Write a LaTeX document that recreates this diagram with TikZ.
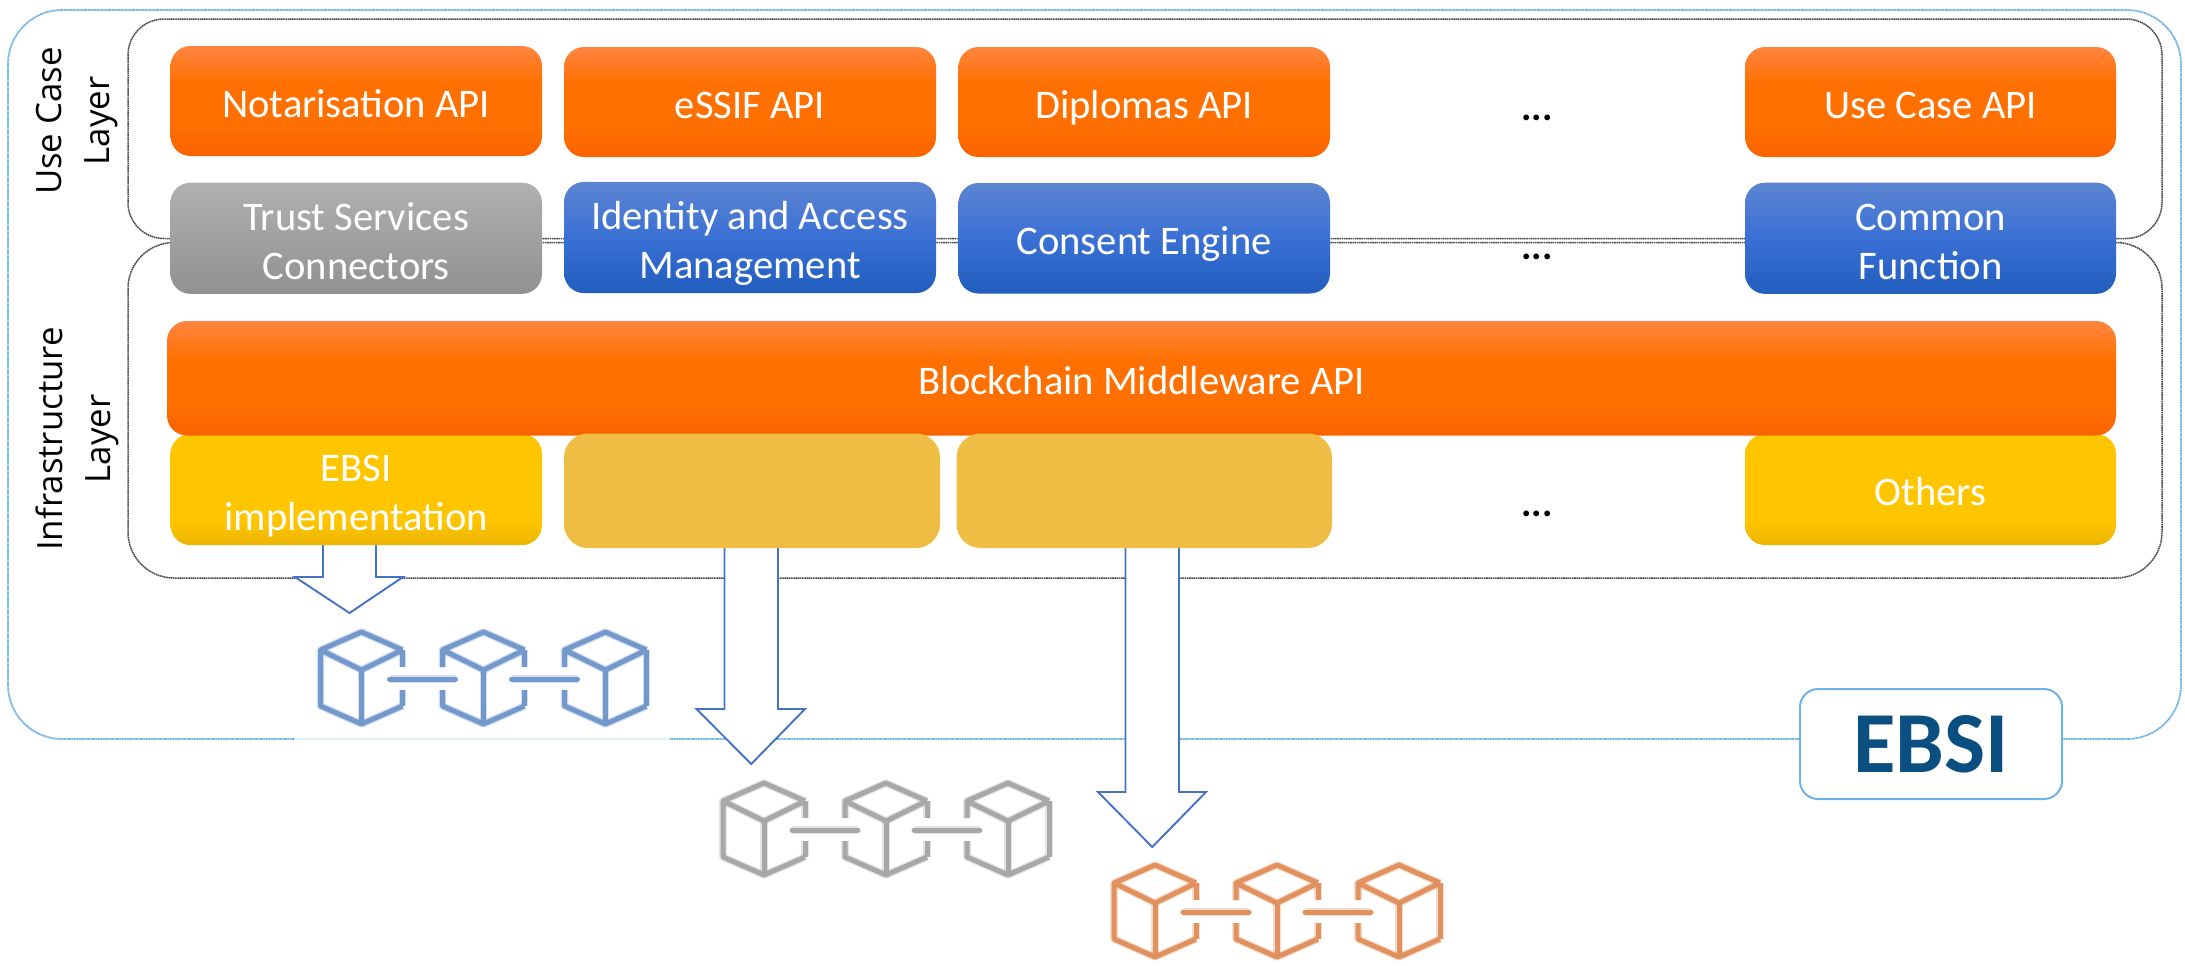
\documentclass[tikz,border=0pt]{standalone}
\usepackage{fontspec}
\setmainfont{Carlito}
\newfontfamily\lyrfont{Open Sans}
\definecolor{oT}{HTML}{FF8540}
\definecolor{oM}{HTML}{FF7000}
\definecolor{oB}{HTML}{F96300}
\definecolor{bT}{HTML}{5C85D2}
\definecolor{bM}{HTML}{3A70D4}
\definecolor{bB}{HTML}{215EBE}
\definecolor{gT}{HTML}{B0B0B0}
\definecolor{gB}{HTML}{919191}
\definecolor{yT}{HTML}{FFC600}
\definecolor{yB}{HTML}{EBB400}
\definecolor{tanfill}{HTML}{EFBD43}
\definecolor{framegray}{HTML}{4A4A4A}
\definecolor{frameblue}{HTML}{6DB3E8}
\definecolor{faintblue}{HTML}{E2F0FA}
\definecolor{arrowblue}{HTML}{4472C4}
\definecolor{cubeblue}{HTML}{7298CC}
\definecolor{cubegray}{HTML}{A8A8A8}
\definecolor{cubeorange}{HTML}{E0915E}
\definecolor{ebsiblue}{HTML}{0B4F80}
\pgfdeclareverticalshading{gorange}{100bp}{color(0bp)=(oB); color(25bp)=(oB); color(40bp)=(oM); color(58bp)=(oM); color(75bp)=(oT); color(100bp)=(oT)}
\pgfdeclareverticalshading{gblue}{100bp}{color(0bp)=(bB); color(25bp)=(bB); color(50bp)=(bM); color(75bp)=(bT); color(100bp)=(bT)}
\pgfdeclareverticalshading{ggray}{100bp}{color(0bp)=(gB); color(25bp)=(gB); color(75bp)=(gT); color(100bp)=(gT)}
\pgfdeclareverticalshading{gyellow}{100bp}{color(0bp)=(yB); color(25bp)=(yB); color(36bp)=(yT); color(100bp)=(yT)}
\tikzset{
  basebox/.style={rounded corners=10pt,inner sep=0pt,align=center,text=white,
    font=\fontsize{20.3}{24.5}\selectfont},
  obox/.style={basebox,shading=gorange},
  bbox/.style={basebox,shading=gblue},
  gbox/.style={basebox,shading=ggray},
  ybox/.style={basebox,shading=gyellow},
  tbox/.style={basebox,fill=tanfill,rounded corners=12pt},
  framein/.style={draw=framegray,line width=0.75pt,dash pattern=on 0.8pt off 0.3pt},
  frameout/.style={draw=frameblue,line width=0.9pt,dash pattern=on 0.9pt off 0.3pt},
  blockarrow/.style={draw=arrowblue,fill=white,line width=0.95pt,line join=miter},
  lyr/.style={font=\lyrfont\fontsize{17.4}{24}\selectfont,align=center,rotate=90,inner sep=0pt},
  dots/.style={font=\fontsize{19.5}{24}\selectfont\bfseries,anchor=base,inner sep=0pt},
  cubeline/.style={line width=2.5pt,preaction={draw,opacity=0.3,line width=3.8pt}},
}
% name, style, x1, y1, x2, y2, text
\newcommand{\bx}[7]{\node[#2,minimum width={(#5-#3)*0.5pt},minimum height={(#6-#4)*0.5pt}] (#1) at ({(#3+#5)/2},{(#4+#6)/2}) {\vbox{\kern6.6pt\hbox{\begin{tabular}{@{}c@{}}#7\end{tabular}}}};}
% x-left, x-right, head wing left, wing right, head y, tip y, start y
\newcommand{\barrow}[7]{\draw[blockarrow] (#1,#7) -- (#1,#5) -- (#3,#5) -- ({(#1+#2)/2},#6) -- (#4,#5) -- (#2,#5) -- (#2,#7) -- cycle;}
\newcommand{\cubeicon}[3]{%
  \begin{scope}[shift={(#1,#2)},draw=#3,line join=round,line cap=butt]
  \foreach \c/\lg/\rg in {0/0/1,122/1/1,244/1/0}{
    \begin{scope}[shift={(\c,0)}]
    \ifnum\lg=1
      \draw[cubeline] (-41,39) -- (-41,22) -- (0,4) -- (41,22);
      \draw[cubeline] (-41,62) -- (-41,78) -- (0,96) -- (41,78);
    \else
      \draw[cubeline] (41,22) -- (0,4) -- (-41,22) -- (-41,78) -- (0,96) -- (41,78);
    \fi
    \ifnum\rg=1
      \draw[cubeline] (41,22) -- (41,39);
      \draw[cubeline] (41,62) -- (41,78);
    \else
      \draw[cubeline] (41,22) -- (41,78);
    \fi
    \draw[cubeline] (-41,22) -- (0,42) -- (41,22);
    \draw[cubeline] (0,42) -- (0,96);
    \end{scope}
  }
  \draw[cubeline,line cap=round] (28,51) -- (94,51);
  \draw[cubeline,line cap=round] (150,51) -- (216,51);
  \end{scope}}
\begin{document}
\begin{tikzpicture}[x=0.5pt,y=-0.5pt]
\useasboundingbox (0,0) rectangle (2185,965);
\fill[white] (0,0) rectangle (2185,965);
% outer frame
\draw[frameout,rounded corners=27pt] (8,10) rectangle (2181,739);
\draw[white,line width=1.6pt] (295,739) -- (670,739);
\draw[faintblue,line width=0.9pt] (295,739) -- (670,739);
% layer frames
\draw[framein,rounded corners=18pt] (128,19) rectangle (2162,238.5);
\draw[framein,rounded corners=23pt] (128,242.5) rectangle (2162,578);
% block arrows
\barrow{323}{376}{295}{403}{577}{613}{540}
\barrow{724.5}{778}{696.5}{805}{709}{764}{540}
\barrow{1125.5}{1179}{1098}{1206}{792}{847}{540}
% EBSI box
\node[draw=frameblue,fill=white,line width=1pt,rounded corners=9pt,minimum width=131pt,minimum height=55pt,inner sep=0pt,text=ebsiblue,font=\fontsize{43.5}{44}\selectfont\bfseries] (ebsi) at (1931,744) {EBSI};
% labels
\node[lyr] (uclabel) at (77,121) {Use Case\\Layer};
\node[lyr] (inlabel) at (77,439) {Infrastructure\\Layer};
% use case row
\bx{notar}{obox}{170.5}{46}{542}{156}{Notarisation API}
\bx{essif}{obox}{564}{47}{936}{157}{eSSIF API}
\bx{dipl}{obox}{958.5}{47}{1330}{157}{Diplomas API}
\bx{ucapi}{obox}{1745}{47}{2116}{157}{Use Case API}
% functions row
\bx{trust}{gbox}{170.5}{183}{542}{293.5}{Trust Services\\Connectors}
\bx{iam}{bbox}{564}{182}{936}{293}{Identity and Access\\Management}
\bx{consent}{bbox}{958.5}{183}{1330}{293.5}{Consent Engine}
\bx{common}{bbox}{1745}{183}{2116}{293.5}{Common\\Function}
% infrastructure
\bx{ebsiimpl}{ybox}{170.5}{434}{542}{545}{EBSI\\implementation}
\bx{others}{ybox}{1745}{434}{2116}{545}{Others}
\bx{middle}{obox}{167}{321}{2116}{435.5}{Blockchain Middleware API}
\node[tbox,minimum width=188pt,minimum height=57.25pt] (tanA) at (752,490.75) {};
\node[tbox,minimum width=187.75pt,minimum height=57.25pt] (tanB) at (1144.25,490.75) {};
% ellipses
\node[dots] (dotsA) at (1537,120) {...};
\node[dots] (dotsB) at (1537,259) {...};
\node[dots] (dotsC) at (1537,516) {...};
% chains
\cubeicon{361.5}{628}{cubeblue}
\cubeicon{764}{779}{cubegray}
\cubeicon{1155}{861}{cubeorange}
\end{tikzpicture}
\end{document}
